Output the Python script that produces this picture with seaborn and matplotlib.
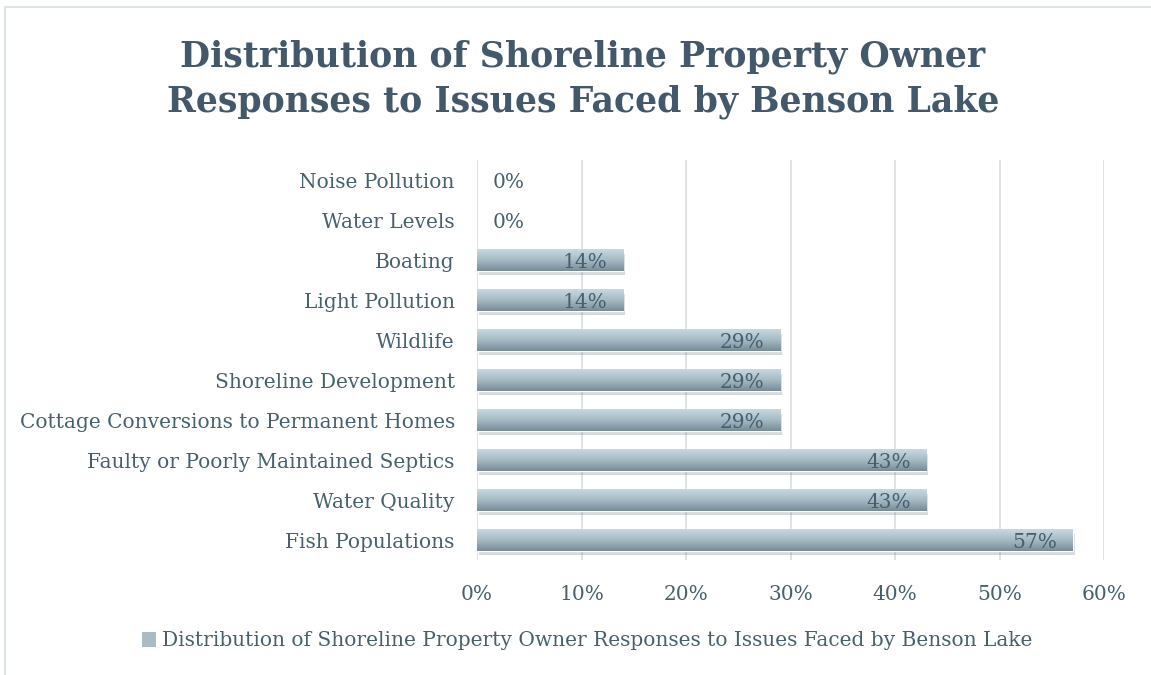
import matplotlib
matplotlib.use("Agg")
import matplotlib.pyplot as plt
import matplotlib.patheffects as pe
from matplotlib.colors import LinearSegmentedColormap
from matplotlib.patches import Rectangle, Patch
from matplotlib.ticker import PercentFormatter
import numpy as np
import pandas as pd
import seaborn as sns

title = "Distribution of Shoreline Property Owner\nResponses to Issues Faced by Benson Lake"
series_name = "Distribution of Shoreline Property Owner Responses to Issues Faced by Benson Lake"
categories = [
    "Noise Pollution",
    "Water Levels",
    "Boating",
    "Light Pollution",
    "Wildlife",
    "Shoreline Development",
    "Cottage Conversions to Permanent Homes",
    "Faulty or Poorly Maintained Septics",
    "Water Quality",
    "Fish Populations",
]
values = [0.0, 0.0, 0.14, 0.14, 0.29, 0.29, 0.29, 0.43, 0.43, 0.57]
x_ticks = [0.0, 0.1, 0.2, 0.3, 0.4, 0.5, 0.6]

TEXT = "#45606F"
TITLE = "#43596B"
GRID = "#D9DFE4"

sns.set_theme(style="white")
plt.rcParams["font.family"] = ["DejaVu Serif"]

df = pd.DataFrame({"category": categories, "value": values})

fig = plt.figure(figsize=(11.51, 6.75), dpi=100)
ax = fig.add_axes([477 / 1151, 1 - 560 / 675, (1104 - 477) / 1151, 400 / 675])

sns.barplot(data=df, x="value", y="category", orient="h", ax=ax,
            color="#A3B6C1", width=0.53, saturation=1)

ax.set_xlim(0, 0.6)
ax.set_xticks(x_ticks)
ax.xaxis.set_major_formatter(PercentFormatter(1.0, decimals=0))
ax.grid(axis="x", color=GRID, linewidth=1.3)
ax.grid(axis="y", visible=False)
ax.set_axisbelow(True)
for s in ax.spines.values():
    s.set_visible(False)
ax.set_xlabel("")
ax.set_ylabel("")
ax.tick_params(axis="x", colors=TEXT, labelsize=14.5, length=0, pad=18)
ax.tick_params(axis="y", colors=TEXT, labelsize=14.5, length=0, pad=16)

cmap = LinearSegmentedColormap.from_list("bar", ["#C8D8E0", "#A6BAC4", "#778C98"])
grad = np.linspace(0, 1, 64).reshape(-1, 1)
for patch in ax.patches:
    w = patch.get_width()
    if w <= 0:
        patch.set_visible(False)
        continue
    x0, y0 = patch.get_x(), patch.get_y()
    h = patch.get_height()
    patch.set_path_effects([pe.SimplePatchShadow(offset=(1.5, -3), shadow_rgbFace="#4A5A64", alpha=0.22), pe.Normal()])
    patch.set_facecolor("#A3B6C1")
    im = ax.imshow(grad, cmap=cmap, aspect="auto", extent=(x0, x0 + w, y0 + h, y0),
                   origin="upper", zorder=patch.get_zorder() + 0.1, interpolation="bicubic")
    im.set_clip_path(patch)

ax.set_xlim(0, 0.6)
ax.set_ylim(len(categories) - 0.5, -0.5)

for i, v in enumerate(values):
    label = f"{round(v * 100):.0f}%"
    if v > 0:
        ax.text(v - 0.015, i + 0.05, label, ha="right", va="center", color=TEXT, fontsize=14.5, zorder=5)
    else:
        ax.text(0.015, i + 0.05, label, ha="left", va="center", color=TEXT, fontsize=14.5, zorder=5)

fig.text(583 / 1151, 1 - 79 / 675, title, ha="center", va="center", color=TITLE,
         fontsize=25, fontweight="bold", linespacing=1.38)

handle = Patch(facecolor="#A9BCC6", edgecolor="none")
fig.legend([handle], [series_name], loc="center", bbox_to_anchor=(587 / 1151, 1 - 641 / 675),
           frameon=False, fontsize=14.5, labelcolor=TEXT, handlelength=0.7, handleheight=0.7,
           handletextpad=0.3)

frame = Rectangle((5 / 1151, -0.05), 1.2, 1 - 7 / 675 + 0.05, transform=fig.transFigure,
                  fill=False, edgecolor="#DDE4E9", linewidth=1.5)
fig.add_artist(frame)

fig.savefig("out.png", dpi=100, facecolor="white")
